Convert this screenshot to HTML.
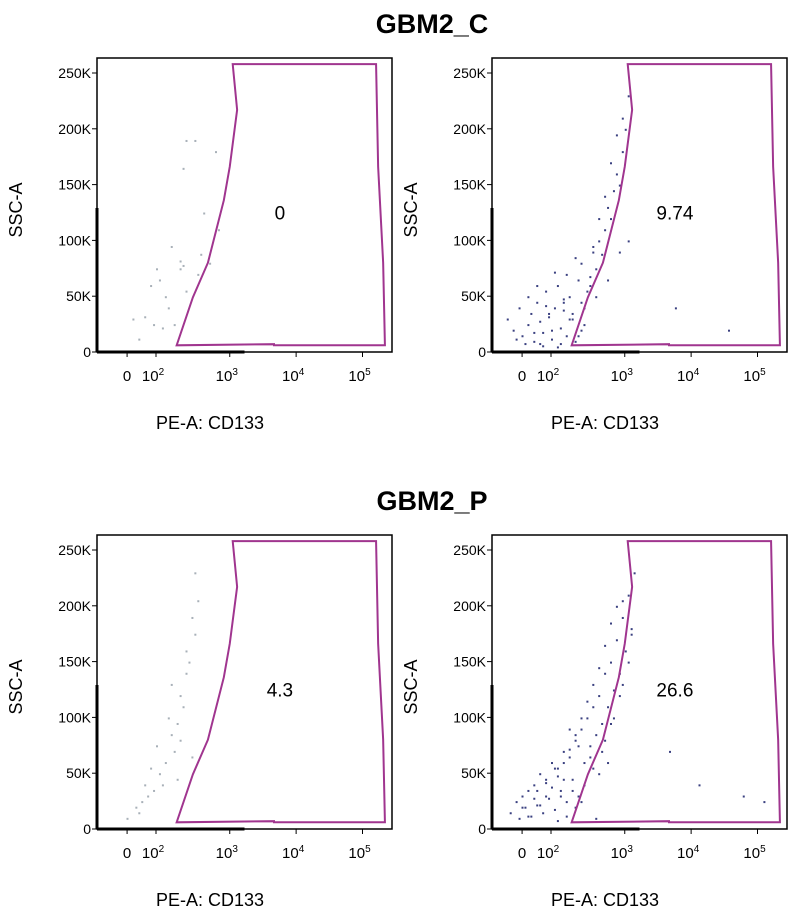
<!DOCTYPE html>
<html><head><meta charset="utf-8"><style>
body{margin:0;background:#fff;width:798px;height:911px;overflow:hidden;font-family:"Liberation Sans",Arial,sans-serif}
svg text{font-family:"Liberation Sans",Arial,sans-serif}
</style></head><body>
<svg id="s" width="798" height="911">
<text x="432" y="33" text-anchor="middle" font-size="27" font-weight="bold">GBM2_C</text>
<text x="432" y="510" text-anchor="middle" font-size="27" font-weight="bold">GBM2_P</text>
</svg>
<script>
// axis tick data
const yTickVals=[0,50,100,150,200,250];
const yTickLabels=["0","50K","100K","150K","200K","250K"];
const xTickVals=[10.2,20,45,67.5,90];
const xTickLabels=["0","10","10","10","10"];
const xTickExp=["","2","3","4","5"];
// gate polygon in data units (x: 0-100 display, y: K), in drawing order
const gateX=[46,94.6,95.3,97,97.6,60,60,27,32.5,37.6,43,45,47.5,46];
const gateY=[258,258,166,80,6,6,7,6,49,80,136,166,217,258];
const panelValues=["0","9.74","4.3","26.6"];
// event data per panel (x display units, y K)
const dotsX0=[30,33,29,40,36,41,25,28,20,21,29,35,34,38,12,16,19,26,23,24,28,14,22,30,18];
const dotsY0=[190,190,165,180,125,110,95,75,75,65,78,88,70,80,30,32,25,25,50,40,82,12,22,55,60];
const dotsX1=[5,7,9,10,12,13,14,15,16,17,18,19,20,21,22,23,24,25,26,27,28,29,30,31,32,8,11,14,17,20,23,26,29,12,15,18,21,24,27,30,33,34,35,36,37,38,39,40,41,42,43,44,45,46,44,42,40,38,36,34,33,31,22,19,25,28,35,39,43,46,24,30,16,62,80];
const dotsY1=[30,20,40,15,25,35,10,45,28,18,55,32,12,40,60,22,38,15,50,30,10,65,45,25,55,12,8,18,6,20,8,30,15,50,60,42,72,48,35,80,68,90,75,100,88,110,130,120,145,160,150,180,200,230,210,195,170,140,120,95,60,40,5,35,70,85,50,65,90,100,45,20,8,40,20];
const dotsX2=[33,34,32,33,31,30,28,29,27,25,26,23,21,22,19,17,15,13,18,24,28,30,20,16,32,25,27,10,14];
const dotsY2=[230,205,190,175,150,140,120,110,95,85,70,60,50,40,35,30,25,20,55,100,80,160,75,40,65,130,45,10,15];
const dotsX3=[6,8,9,10,11,12,13,14,15,16,17,18,19,20,21,22,23,24,25,26,27,28,29,30,31,32,33,34,35,36,37,38,39,40,41,42,43,44,45,46,47,48,44,42,40,38,36,34,32,30,28,26,24,22,20,18,16,14,12,10,22,25,28,31,34,37,40,43,46,35,30,27,24,21,18,15,38,41,44,47,39,36,33,29,26,23,60,70,85,92];
const dotsY3=[15,25,10,30,20,35,12,40,22,50,15,45,28,60,18,55,35,70,25,65,45,80,30,90,60,100,75,110,85,120,95,140,110,150,125,170,140,190,160,210,180,230,205,200,185,165,145,130,115,100,85,72,60,48,38,30,22,28,12,20,8,12,20,40,55,70,95,120,150,10,25,35,45,55,42,35,80,100,130,175,60,50,65,75,90,30,70,40,30,25];
const dotsX=[dotsX0,dotsX1,dotsX2,dotsX3];
const dotsY=[dotsY0,dotsY1,dotsY2,dotsY3];

const NS="http://www.w3.org/2000/svg";
const svg=document.getElementById('s');
function mk(t,a,p){const e=document.createElementNS(NS,t);for(const k in a)e.setAttribute(k,a[k]);(p||svg).appendChild(e);return e;}
const panels=[[97,58],[492,58],[97,535],[492,535]];
panels.forEach((p,i)=>{
  const L=p[0],T=p[1],W=295,H=294;
  const sx=v=>L+v/100*W;
  const sy=v=>T+H-v*279/250;
  const g=mk('g',{});
  
  
  const fr=mk('rect',{x:L,y:T,width:W,height:H,fill:'#fff',stroke:'#000','stroke-width':1.5},g);
  
  
  mk('line',{x1:L,y1:T+150,x2:L,y2:T+H,stroke:'#000','stroke-width':3},g);
  mk('line',{x1:L,y1:T+H,x2:sx(50),y2:T+H,stroke:'#000','stroke-width':3},g);
  dotsX[i].forEach((xv,j)=>{
    const d=mk('rect',{x:sx(xv),y:sy(dotsY[i][j]),width:2,height:2,fill:i%2?'#3a4080':'#a8b0b8'},g);
    
    
  });
  const gp=mk('polygon',{points:gateX.map((x,j)=>sx(x)+','+sy(gateY[j])).join(' '),fill:'none',stroke:'#a0358f','stroke-width':2},g);
  
  
  const vt=mk('text',{x:sx(62),y:sy(125)+7,'text-anchor':'middle','font-size':19},g);
  vt.textContent=panelValues[i];
  
  
  yTickVals.forEach((v,j)=>{
    mk('line',{x1:L-5,y1:sy(v),x2:L,y2:sy(v),stroke:'#000'},g);
    const t=mk('text',{x:L-6,y:sy(v)+5,'text-anchor':'end','font-size':14},g);
    t.textContent=yTickLabels[j];
    
    
  });
  xTickVals.forEach((v,j)=>{
    mk('line',{x1:sx(v),y1:T+H,x2:sx(v),y2:T+H+5,stroke:'#000'},g);
    const t=mk('text',{x:sx(v)+(j?-3:0),y:T+H+29,'text-anchor':'middle','font-size':15},g);
    t.textContent=xTickLabels[j];
    if(xTickExp[j]){const ts=mk('tspan',{dy:-6,'font-size':10},t);ts.textContent=xTickExp[j];}
    
    
  });
  const xt=mk('text',{x:L+113,y:T+H+77,'text-anchor':'middle','font-size':18},g);
  xt.textContent='PE-A: CD133';
  
  
  const yt=mk('text',{x:0,y:0,'text-anchor':'middle','font-size':18,transform:`translate(${L-75},${T+H/2+5}) rotate(-90)`},g);
  yt.textContent='SSC-A';
  
  
});
</script>
</body></html>
